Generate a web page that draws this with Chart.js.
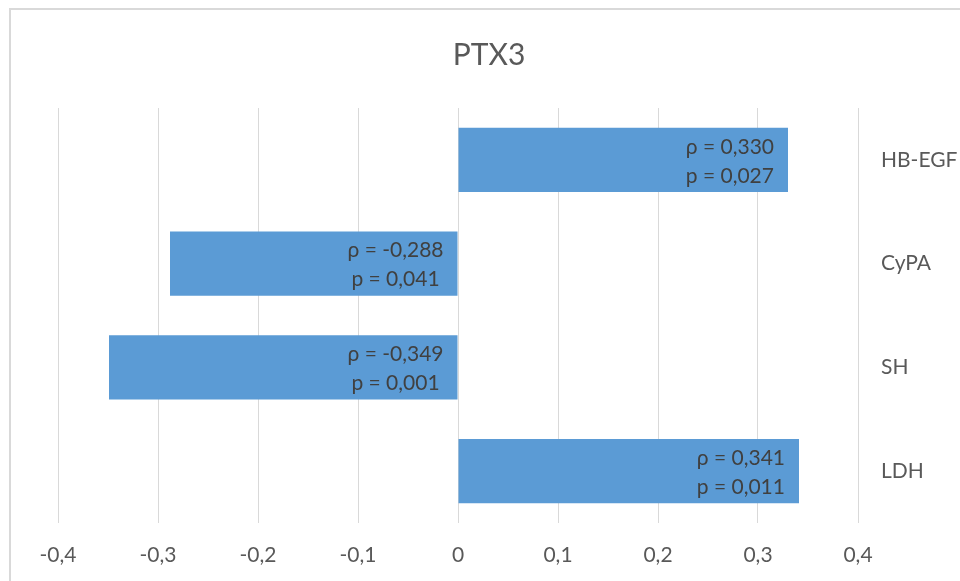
<!DOCTYPE html>
<html>
<head>
<meta charset="utf-8">
<script src="https://cdn.jsdelivr.net/npm/chart.js@4.4.1/dist/chart.umd.min.js"></script>
<style>
  html, body { margin: 0; padding: 0; background: #ffffff; }
  #wrap { position: relative; width: 960px; height: 581px; overflow: hidden; }
  #frame {
    position: absolute; left: 9px; top: 8px; width: 1000px; height: 700px;
    border-left: 2px solid #d9d9d9; border-top: 2px solid #d9d9d9;
    box-sizing: border-box;
  }
  canvas { position: absolute; left: 0; top: 0; }
</style>
</head>
<body>
<div id="wrap">
  <div id="frame"></div>
  <canvas id="chart" width="960" height="581"></canvas>
</div>
<script>
// Spearman correlations of PTX3 with each marker
const categories = ['HB-EGF', 'CyPA', 'SH', 'LDH'];
const rhoValues = [0.330, -0.288, -0.349, 0.341];
const pValues = ['0,027', '0,041', '0,001', '0,011'];
const xTickValues = [-0.4, -0.3, -0.2, -0.1, 0, 0.1, 0.2, 0.3, 0.4];

const FONT = 'Lato, "Open Sans", "DejaVu Sans", sans-serif';

function commaNumber(v, digits) {
  if (Math.abs(v) < 1e-9) return '0';
  return v.toFixed(digits).replace('.', ',');
}

// The chart frame runs past the right edge of the canvas, so the title
// is centred on that wider frame rather than on the canvas.
const titleCentre = {
  id: 'titleCentre',
  afterLayout(chart) {
    const t = chart.titleBlock;
    if (t) {
      t.right = 920;
      t.width = t.right - t.left;
    }
  }
};

// Two-line value labels placed inside the end of each bar
const barLabels = {
  id: 'barLabels',
  afterDatasetsDraw(chart) {
    const ctx = chart.ctx;
    const meta = chart.getDatasetMeta(0);
    ctx.save();
    ctx.font = '21px ' + FONT;
    ctx.fillStyle = '#404040';
    ctx.textAlign = 'center';
    ctx.textBaseline = 'middle';
    meta.data.forEach((bar, i) => {
      const v = rhoValues[i];
      const line1 = '\u03c1 = ' + commaNumber(v, 3);
      const line2 = 'p = ' + pValues[i];
      const w = Math.max(ctx.measureText(line1).width, ctx.measureText(line2).width);
      const right = Math.max(bar.x, bar.base) - 14;
      const cx = right - w / 2;
      ctx.fillText(line1, cx, bar.y - 13);
      ctx.fillText(line2, cx, bar.y + 16);
    });
    ctx.restore();
  }
};

new Chart(document.getElementById('chart'), {
  type: 'bar',
  data: {
    labels: categories,
    datasets: [{
      data: rhoValues,
      backgroundColor: '#5b9bd5',
      borderWidth: 0,
      barPercentage: 0.617,
      categoryPercentage: 1.0
    }]
  },
  options: {
    indexAxis: 'y',
    responsive: false,
    animation: false,
    events: [],
    layout: { padding: { left: 58, top: 0, right: 0, bottom: 0 } },
    plugins: {
      legend: { display: false },
      tooltip: { enabled: false },
      title: {
        display: true,
        text: 'PTX3',
        color: '#595959',
        font: { family: FONT, size: 30, weight: 'normal', lineHeight: 1.2 },
        padding: { top: 37, bottom: 35 }
      }
    },
    scales: {
      x: {
        type: 'linear',
        position: 'bottom',
        min: -0.4,
        max: 0.4,
        afterBuildTicks(scale) {
          scale.ticks = xTickValues.map(v => ({ value: v }));
        },
        afterFit(scale) { scale.height = 58; },
        grid: { color: '#d9d9d9', lineWidth: 1, drawTicks: false },
        border: { display: false },
        ticks: {
          color: '#595959',
          font: { family: FONT, size: 21 },
          padding: 20,
          callback: v => commaNumber(v, 1)
        }
      },
      y: {
        position: 'right',
        afterFit(scale) { scale.width = 102; },
        grid: { display: false, drawTicks: false },
        border: { display: false },
        ticks: {
          color: '#595959',
          font: { family: FONT, size: 21 },
          padding: 23,
          crossAlign: 'near'
        }
      }
    }
  },
  plugins: [titleCentre, barLabels]
});
</script>
</body>
</html>
